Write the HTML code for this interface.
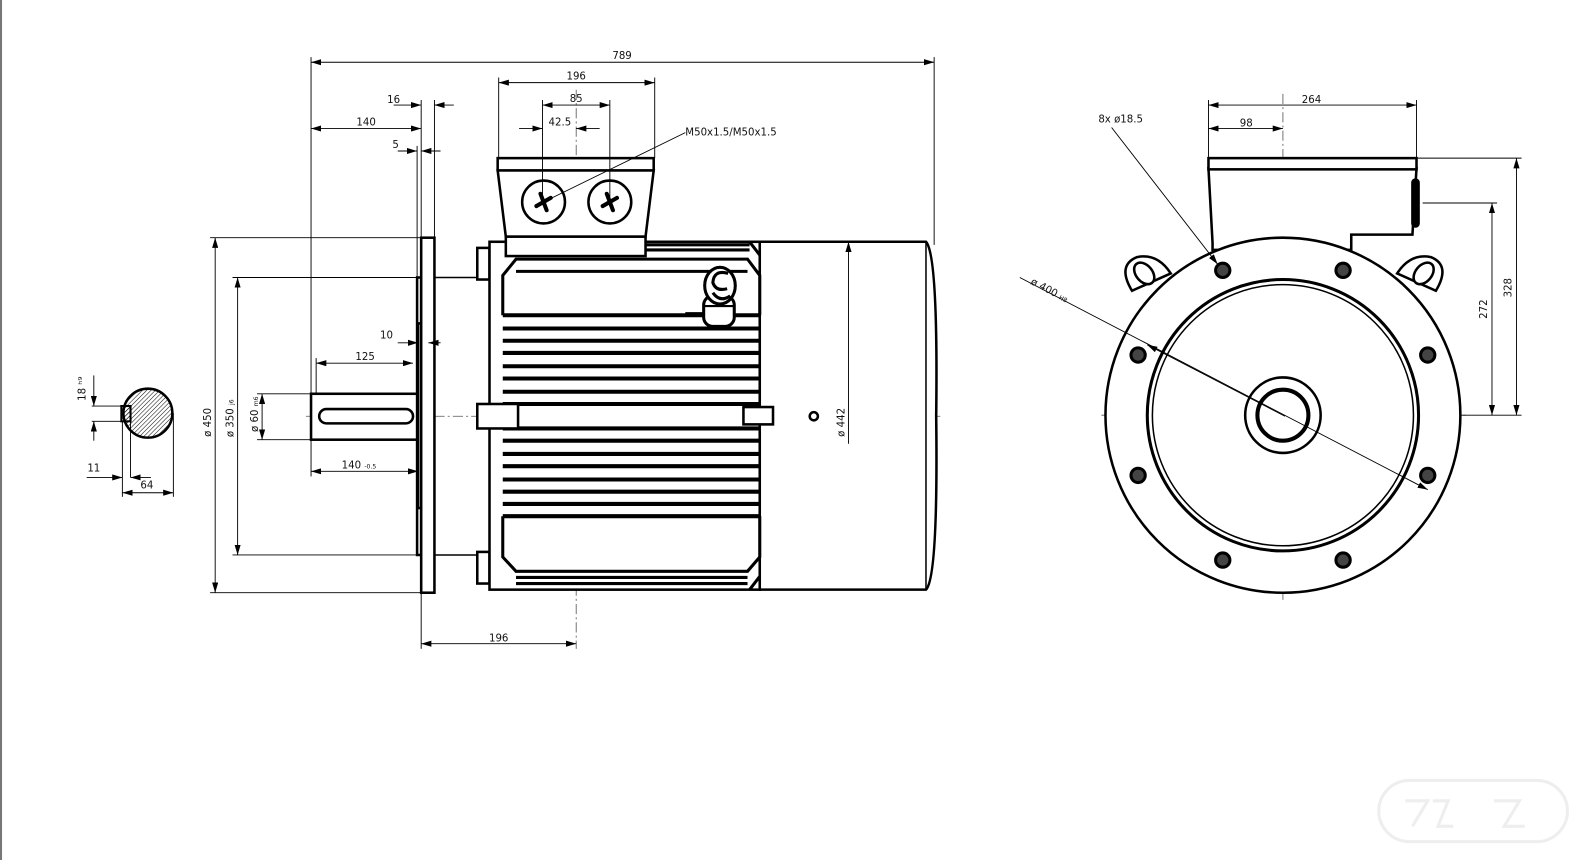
<!DOCTYPE html>
<html><head><meta charset="utf-8"><style>
html,body{margin:0;padding:0;background:#fff;}
svg{display:block;}
text{font-family:"DejaVu Sans","Liberation Sans",sans-serif;font-size:10px;fill:#111;}
</style></head><body>
<svg width="1596" height="860" viewBox="0 0 1565 843" preserveAspectRatio="none" xmlns="http://www.w3.org/2000/svg">
<defs>
<marker id="a" viewBox="0 0 10 6" refX="10" refY="3" markerWidth="10" markerHeight="6" orient="auto-start-reverse" markerUnits="userSpaceOnUse"><path d="M0,0 L10,3 L0,6 z" fill="#000"/></marker>
<pattern id="h" width="3" height="3" patternUnits="userSpaceOnUse" patternTransform="rotate(45)"><line x1="0" y1="0" x2="0" y2="3" stroke="#000" stroke-width="1"/></pattern>
</defs>
<rect x="0" y="0" width="1565" height="843" fill="#fff"/>
<line x1="1" y1="0" x2="1" y2="843" stroke="#777" stroke-width="2"/>

<!-- centerlines -->
<g stroke="#555" stroke-width="0.8" stroke-dasharray="10,3,2,3" fill="none">
<line x1="300" y1="408" x2="922" y2="408"/>
<line x1="565" y1="88" x2="565" y2="636"/>
<line x1="1080" y1="407" x2="1440" y2="407"/>
<line x1="1258" y1="92" x2="1258" y2="590"/>
<circle cx="1258" cy="407" r="154"/>
</g>

<!-- LEFT SHAFT END VIEW -->
<circle cx="145" cy="405" r="24" fill="url(#h)" stroke="#000" stroke-width="2.5"/>
<rect x="119" y="398" width="9" height="15" fill="url(#h)" stroke="#000" stroke-width="2"/>
<g stroke="#000" stroke-width="0.9" fill="none">
<line x1="90" y1="398" x2="128" y2="398"/><line x1="90" y1="413" x2="128" y2="413"/>
<line x1="92" y1="368" x2="92" y2="398" marker-end="url(#a)"/><line x1="92" y1="432" x2="92" y2="413" marker-end="url(#a)"/>
<line x1="120" y1="413" x2="120" y2="487"/><line x1="128" y1="413" x2="128" y2="468"/><line x1="170" y1="405" x2="170" y2="487"/>
<line x1="85" y1="468" x2="120" y2="468" marker-end="url(#a)"/><line x1="148" y1="468" x2="128" y2="468" marker-end="url(#a)"/>
<line x1="120" y1="483" x2="170" y2="483" marker-start="url(#a)" marker-end="url(#a)"/>
</g>
<text x="84" y="381" transform="rotate(-90 84 381)" text-anchor="middle">18 ʰ⁹</text>
<text x="92" y="462" text-anchor="middle">11</text>
<text x="144" y="479" text-anchor="middle">64</text>

<!-- SIDE VIEW GEOMETRY -->
<g stroke="#000" stroke-width="2.5" fill="#fff">
<rect x="305" y="386" width="105" height="45"/>
<rect x="313" y="401" width="92" height="14" rx="7"/>
<rect x="409" y="272" width="4" height="272"/>
<rect x="410" y="317" width="10" height="181"/>
<rect x="416" y="371" width="5" height="73" stroke-width="1.5"/>
<rect x="413" y="233" width="13" height="348"/>
<line x1="426" y1="272" x2="480" y2="272" stroke-width="1.5"/>
<line x1="426" y1="544" x2="480" y2="544" stroke-width="1.5"/>
<rect x="468" y="243" width="12" height="31"/>
<rect x="468" y="541" width="12" height="31"/>
<rect x="480" y="237" width="265" height="341"/>
<path d="M745,237 L908,237 Q920,250 918,408 Q920,566 908,578 L745,578 Z"/>
<line x1="908" y1="237" x2="908" y2="578" stroke-width="1.5"/>
<path d="M496,232 L488,167 L641,167 L633,232 Z"/>
<rect x="488" y="155" width="153" height="12"/>
<rect x="496" y="232" width="137" height="19"/>
<circle cx="533" cy="198" r="21"/>
<circle cx="598" cy="198" r="21"/>
</g>
<g stroke="#000" stroke-width="4" stroke-linecap="round">
<line x1="526" y1="202" x2="540" y2="194"/><line x1="530" y1="190" x2="536" y2="206"/>
<line x1="591" y1="202" x2="605" y2="194"/><line x1="595" y1="190" x2="601" y2="206"/>
</g>
<g stroke="#000" stroke-width="3" fill="none">
<path d="M493,309 L493,270 L506,254 L733,254 L745,270 L745,309"/>
<line x1="506" y1="266" x2="733" y2="266"/>
<path d="M493,506 L493,546 L506,560 L733,560 L745,546 L745,506"/>
<line x1="506" y1="566" x2="733" y2="566"/><line x1="506" y1="572" x2="733" y2="572"/>
<line x1="735" y1="237" x2="745" y2="250"/><line x1="735" y1="578" x2="745" y2="565"/>
<line x1="633" y1="240" x2="735" y2="240"/><line x1="633" y1="245" x2="735" y2="245"/>
</g>
<g stroke="#000" stroke-width="4">
<line x1="493" y1="309" x2="745" y2="309"/><line x1="493" y1="322" x2="745" y2="322"/>
<line x1="493" y1="334" x2="745" y2="334"/><line x1="493" y1="346" x2="745" y2="346"/>
<line x1="493" y1="359" x2="745" y2="359"/><line x1="493" y1="371" x2="745" y2="371"/>
<line x1="493" y1="384" x2="745" y2="384"/><line x1="493" y1="396" x2="745" y2="396"/>
<line x1="493" y1="420" x2="745" y2="420"/><line x1="493" y1="432" x2="745" y2="432"/>
<line x1="493" y1="445" x2="745" y2="445"/><line x1="493" y1="457" x2="745" y2="457"/>
<line x1="493" y1="470" x2="745" y2="470"/><line x1="493" y1="482" x2="745" y2="482"/>
<line x1="493" y1="494" x2="745" y2="494"/><line x1="493" y1="506" x2="745" y2="506"/>
</g>
<g stroke="#000" stroke-width="2.5" fill="#fff">
<rect x="468" y="396" width="40" height="24"/>
<rect x="729" y="399" width="29" height="17"/>
<circle cx="798" cy="408" r="4"/>
</g>
<!-- lifting eye -->
<g stroke="#000" stroke-width="3" fill="#fff">
<rect x="690" y="290" width="30" height="30" rx="9"/>
<line x1="690" y1="300" x2="720" y2="300" stroke-width="2"/>
<ellipse cx="706" cy="280" rx="15" ry="18"/>
<path d="M714,268 Q700,264 699,277 Q702,286 713,283 M699,287 Q706,297 716,290" fill="none"/>
<line x1="672" y1="308" x2="690" y2="308" stroke-width="4"/>
</g>

<!-- SIDE VIEW DIMENSIONS -->
<g stroke="#000" stroke-width="0.9" fill="none">
<line x1="305" y1="56" x2="305" y2="386"/><line x1="916" y1="56" x2="916" y2="240"/>
<line x1="305" y1="61" x2="916" y2="61" marker-start="url(#a)" marker-end="url(#a)"/>
<line x1="489" y1="76" x2="489" y2="155"/><line x1="642" y1="76" x2="642" y2="155"/>
<line x1="489" y1="81" x2="642" y2="81" marker-start="url(#a)" marker-end="url(#a)"/>
<line x1="532" y1="98" x2="532" y2="198"/><line x1="598" y1="98" x2="598" y2="198"/>
<line x1="532" y1="103" x2="598" y2="103" marker-start="url(#a)" marker-end="url(#a)"/>
<line x1="509" y1="126" x2="532" y2="126" marker-end="url(#a)"/><line x1="588" y1="126" x2="565" y2="126" marker-end="url(#a)"/>
<line x1="386" y1="103" x2="413" y2="103" marker-end="url(#a)"/><line x1="445" y1="103" x2="426" y2="103" marker-end="url(#a)"/>
<line x1="413" y1="98" x2="413" y2="233"/><line x1="426" y1="98" x2="426" y2="233"/>
<line x1="305" y1="126" x2="413" y2="126" marker-start="url(#a)" marker-end="url(#a)"/>
<line x1="390" y1="148" x2="409" y2="148" marker-end="url(#a)"/><line x1="432" y1="148" x2="413" y2="148" marker-end="url(#a)"/>
<line x1="409" y1="143" x2="409" y2="272"/>
<line x1="390" y1="336" x2="410" y2="336" marker-end="url(#a)"/><line x1="432" y1="336" x2="420" y2="336" marker-end="url(#a)"/>
<line x1="310" y1="356" x2="405" y2="356" marker-start="url(#a)" marker-end="url(#a)"/><line x1="310" y1="351" x2="310" y2="386"/>
<line x1="305" y1="462" x2="410" y2="462" marker-start="url(#a)" marker-end="url(#a)"/><line x1="305" y1="431" x2="305" y2="467"/><line x1="410" y1="444" x2="410" y2="467"/>
<line x1="206" y1="233" x2="413" y2="233"/><line x1="206" y1="581" x2="413" y2="581"/>
<line x1="211" y1="233" x2="211" y2="581" marker-start="url(#a)" marker-end="url(#a)"/>
<line x1="228" y1="272" x2="409" y2="272"/><line x1="228" y1="544" x2="409" y2="544"/>
<line x1="233" y1="272" x2="233" y2="544" marker-start="url(#a)" marker-end="url(#a)"/>
<line x1="252" y1="386" x2="305" y2="386"/><line x1="252" y1="431" x2="305" y2="431"/>
<line x1="257" y1="386" x2="257" y2="431" marker-start="url(#a)" marker-end="url(#a)"/>
<line x1="832" y1="237" x2="832" y2="435" marker-start="url(#a)"/>
<line x1="413" y1="581" x2="413" y2="636"/>
<line x1="413" y1="631" x2="565" y2="631" marker-start="url(#a)" marker-end="url(#a)"/>
<line x1="533" y1="198" x2="672" y2="130"/>
</g>
<text x="610" y="58" text-anchor="middle">789</text>
<text x="565" y="78" text-anchor="middle">196</text>
<text x="565" y="100" text-anchor="middle">85</text>
<text x="549" y="123" text-anchor="middle">42.5</text>
<text x="386" y="101" text-anchor="middle">16</text>
<text x="359" y="123" text-anchor="middle">140</text>
<text x="388" y="145" text-anchor="middle">5</text>
<text x="672" y="133">M50x1.5/M50x1.5</text>
<text x="379" y="332" text-anchor="middle">10</text>
<text x="358" y="353" text-anchor="middle">125</text>
<text x="352" y="459" text-anchor="middle">140 <tspan font-size="6">-0.5</tspan></text>
<text x="489" y="629" text-anchor="middle">196</text>
<text x="207" y="414" transform="rotate(-90 207 414)" text-anchor="middle">ø 450</text>
<text x="229" y="410" transform="rotate(-90 229 410)" text-anchor="middle">ø 350 <tspan font-size="6">j6</tspan></text>
<text x="253" y="406" transform="rotate(-90 253 406)" text-anchor="middle">ø 60 <tspan font-size="6">m6</tspan></text>
<text x="828" y="414" transform="rotate(-90 828 414)" text-anchor="middle">ø 442</text>

<!-- FRONT VIEW -->
<g stroke="#000" stroke-width="2.5" fill="#fff">
<path d="M1110,285 Q1095,260 1115,252 Q1135,248 1148,268 Z"/>
<ellipse cx="1122" cy="268" rx="8" ry="12" transform="rotate(-40 1122 268)"/>
<path d="M1408,285 Q1423,260 1403,252 Q1383,248 1370,268 Z"/>
<ellipse cx="1396" cy="268" rx="8" ry="12" transform="rotate(40 1396 268)"/>
<path d="M1189,238 L1185,165 L1389,165 L1385,230 L1325,230 L1325,245 L1189,245 Z"/>
<rect x="1185" y="155" width="204" height="11"/>
<rect x="1385" y="176" width="6" height="46" rx="3" fill="#000"/>
<circle cx="1258" cy="407" r="174"/>
</g>
<circle cx="1258" cy="407" r="133" fill="none" stroke="#000" stroke-width="3"/>
<circle cx="1258" cy="407" r="128" fill="none" stroke="#000" stroke-width="1.5"/>
<circle cx="1258" cy="407" r="37" fill="none" stroke="#000" stroke-width="2.5"/>
<circle cx="1258" cy="407" r="25" fill="none" stroke="#000" stroke-width="4"/>
<g stroke="#000" stroke-width="3" fill="#444">
<circle cx="1199" cy="265" r="7"/><circle cx="1317" cy="265" r="7"/>
<circle cx="1116" cy="348" r="7"/><circle cx="1400" cy="348" r="7"/>
<circle cx="1116" cy="466" r="7"/><circle cx="1400" cy="466" r="7"/>
<circle cx="1199" cy="549" r="7"/><circle cx="1317" cy="549" r="7"/>
</g>
<g stroke="#000" stroke-width="0.9" fill="none">
<line x1="1185" y1="98" x2="1185" y2="155"/><line x1="1389" y1="98" x2="1389" y2="155"/>
<line x1="1185" y1="103" x2="1389" y2="103" marker-start="url(#a)" marker-end="url(#a)"/>
<line x1="1185" y1="126" x2="1258" y2="126" marker-start="url(#a)" marker-end="url(#a)"/>
<line x1="1389" y1="155" x2="1492" y2="155"/><line x1="1395" y1="199" x2="1468" y2="199"/>
<line x1="1432" y1="407" x2="1492" y2="407"/>
<line x1="1487" y1="155" x2="1487" y2="407" marker-start="url(#a)" marker-end="url(#a)"/>
<line x1="1463" y1="199" x2="1463" y2="407" marker-start="url(#a)" marker-end="url(#a)"/>
<line x1="1090" y1="125" x2="1194" y2="259" marker-end="url(#a)"/>
<line x1="1000" y1="272" x2="1400" y2="480" marker-end="url(#a)"/>
<line x1="1260" y1="408" x2="1125" y2="338" marker-end="url(#a)"/>
</g>
<text x="1286" y="101" text-anchor="middle">264</text>
<text x="1222" y="124" text-anchor="middle">98</text>
<text x="1077" y="120">8x  ø18.5</text>
<text x="1482" y="282" transform="rotate(-90 1482 282)" text-anchor="middle">328</text>
<text x="1458" y="303" transform="rotate(-90 1458 303)" text-anchor="middle">272</text>
<text x="1010" y="278" transform="rotate(28 1010 278)">ø 400 <tspan font-size="6">H8</tspan></text>

<g stroke="#eee" stroke-width="3" fill="none">
<rect x="1352" y="765" width="185" height="60" rx="30"/>
<path d="M1378,785 L1400,785 L1385,810 M1405,785 L1420,785 L1410,810 L1425,810 M1465,785 L1490,785 L1475,810 L1495,810"/>
</g>
</svg>
</body></html>
